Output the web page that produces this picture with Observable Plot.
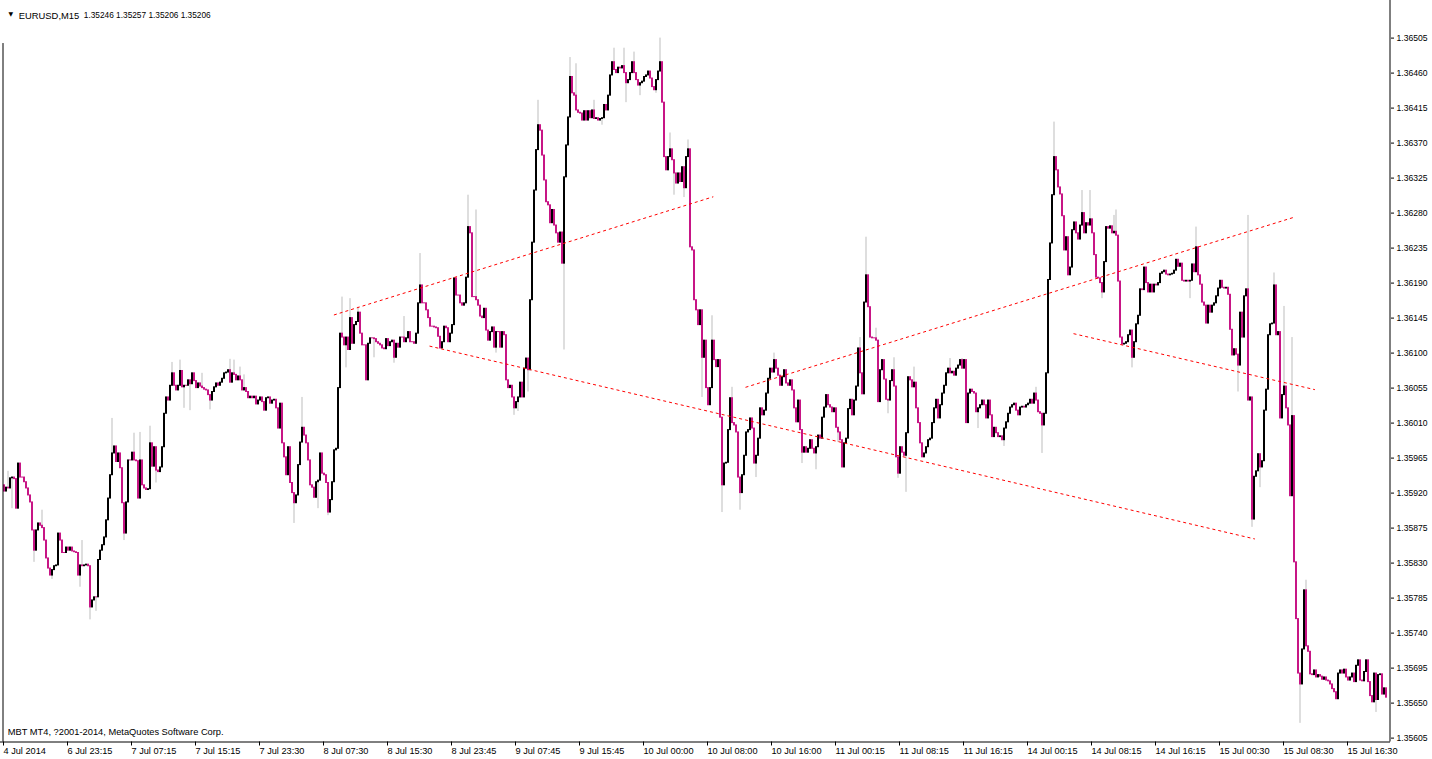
<!DOCTYPE html>
<html><head><meta charset="utf-8">
<script src="https://cdn.jsdelivr.net/npm/d3@7"></script>
<script src="https://cdn.jsdelivr.net/npm/@observablehq/plot@0.6"></script>
<style>
html,body{margin:0;padding:0;background:#fff;}
#chart svg{display:block;}
</style></head><body><div id="chart"></div>
<script>
// ---- texts ----
const symbolTitle = "EURUSD,M15";
const headerOHLC = "1.35246 1.35257 1.35206 1.35206";
const copyright = "MBT MT4, ?2001-2014, MetaQuotes Software Corp.";

// ---- candles (M15), prices in 0.00001 units above 1.30000 ----
const firstOpenPts = 5930;
const closePts = [
5922,5927,5926,5939,5940,5938,5900,5958,5940,5940,
5934,5926,5917,5908,5872,5846,5872,5881,5878,5875,
5859,5836,5823,5814,5821,5826,5827,5868,5859,5843,
5843,5850,5846,5850,5845,5844,5843,5814,5827,5826,
5827,5828,5826,5773,5782,5786,5786,5834,5846,5853,
5863,5885,5913,5943,5971,5980,5960,5971,5952,5907,
5868,5908,5962,5962,5972,5962,5961,5913,5962,5930,
5926,5924,5925,5984,5954,5979,5949,5947,5953,5979,
6022,6043,6039,6058,6074,6058,6052,6058,6077,6056,
6058,6058,6065,6060,6074,6064,6055,6061,6057,6055,
6053,6052,6046,6039,6050,6056,6061,6058,6062,6067,
6074,6075,6078,6062,6074,6072,6065,6070,6065,6052,
6055,6050,6042,6044,6042,6044,6034,6039,6043,6037,
6026,6042,6043,6035,6039,6040,6029,6003,6035,
5984,5966,5943,5979,5933,5920,5907,5917,5956,5985,
6004,5994,5984,5962,5930,5927,5914,5934,5936,5971,
5945,5943,5933,5895,5911,5934,5975,5977,6055,6125,
6120,6110,6120,6104,6145,6112,6136,6140,6152,6125,
6110,6110,6065,6112,6119,6119,6118,6114,6112,6110,
6106,6105,6118,6109,6114,6116,6094,6112,6107,6120,
6120,6114,6119,6127,6114,6114,6112,6125,6164,6187,
6164,6164,6155,6145,6134,6134,6133,6132,6121,6106,
6114,6134,6132,6114,6125,6136,6196,6174,6174,6164,
6161,6164,6197,6262,6254,6172,6172,6168,6161,6147,
6145,6157,6129,6116,6127,6133,6107,6127,6127,6107,
6127,6123,6065,6055,6058,6043,6029,6037,6043,6062,
6043,6080,6093,6078,6168,6242,6309,6361,6393,6386,
6354,6322,6294,6290,6267,6284,6264,
6254,6242,6255,6215,6326,6367,6403,6455,6434,6431,
6412,6409,6408,6399,6411,6399,6411,6402,6412,6401,
6402,6399,6401,6402,6419,6412,6431,6457,6474,6464,
6460,6467,6466,6469,6460,6447,6451,6460,6474,6460,
6451,6444,6447,6449,6455,6457,6462,6453,6442,6438,
6451,6462,6474,6422,6352,6335,6352,6362,6348,6331,
6318,6331,6320,6339,6312,6352,6362,6236,6232,6168,
6155,6136,6155,6094,6116,6055,6033,6055,6116,6091,
6082,6091,6017,5930,5958,5959,6001,6042,6010,6007,
5998,5940,5920,5943,5968,5998,6001,6016,6003,5958,
5968,5990,6029,6020,6026,6048,6067,6080,6075,6091,
6080,6071,6058,6069,6078,6061,6058,6065,6052,6029,
6011,6039,6001,5972,5979,5972,5977,5988,5977,5971,
5979,5994,5990,6017,6030,6046,6033,6030,6024,6029,
6004,5998,
5988,5953,5984,5990,6028,6040,6020,6039,6057,6106,
6074,6047,6165,6200,6159,6120,6119,6119,6116,6037,
6078,6091,6066,6040,6039,6064,6078,6057,5966,5945,
5979,5972,5968,5997,6069,6065,6056,6062,6029,6010,
5984,5966,5971,5979,5988,5990,6010,6029,6040,6016,
6033,6048,6058,6074,6080,6074,6076,6071,6080,6084,
6091,6080,6091,6010,6048,6053,6050,6048,6024,6029,
6033,6039,6033,6016,6039,6020,5992,6004,5997,5992,
5993,5988,6003,6011,6022,6030,6033,6035,6026,6020,
6030,6031,6030,6033,6035,6040,6035,6048,6039,6024,
6022,6007,6022,6074,6194,6241,6303,6352,6335,6313,
6304,6276,6232,6249,6200,6210,6258,6268,6254,6246,
6264,6280,6254,6267,6264,6272,6254,6226,6197,6196,
6190,6178,6217,6262,6260,6263,6254,6256,6251,
6192,6120,6111,6112,6114,6123,6129,6094,6114,6137,
6148,6182,6181,6210,6190,6178,6188,6178,6188,6187,
6190,6202,6204,6206,6201,6200,6201,6202,6206,6220,
6211,6215,6193,6192,6193,6192,6193,6214,6204,6236,
6200,6188,6165,6161,6138,6161,6152,6161,6164,6173,
6183,6193,6184,6183,6184,6175,6130,6097,6105,6098,
6084,6152,6120,6173,6182,6039,6043,5886,5941,5948,
5970,5953,5961,6026,6053,6123,6137,6138,6187,6123,
6127,6016,6046,6057,6029,6007,5916,6019,5831,5758,
5688,5674,5719,5795,5723,5716,5687,5686,5692,5683,
5686,5684,5680,5683,5679,5678,5674,5668,5664,5655,
5688,5692,5688,5693,5683,5679,5683,5688,5677,5698,
5705,5679,5678,5690,5705,5677,5659,5651,5688,5654,
5686,5687,5661,5669,5657
];

// visible shadows (bar index, high, low) in the same units; null = no shadow on that side
const wickIndex = [2,4,15,19,24,38,39,43,46,54,60,65,68,73,76,84,88,90,93,99,103,113,115,118,120,
  145,149,157,162,169,171,173,177,185,195,200,208,232,236,246,255,257,262,267,
  280,283,286,295,299,305,310,311,315,318,326,328,333,335,340,342,349,354,359,364,368,376,385,399,406,417,
  428,431,436,442,445,447,451,455,473,479,487,500,516,519,525,539,543,549,555,556,
  564,593,596,617,622,624,628,635,640,644,648,651,686];
const wickHighPts = [5948,null,null,5898,null,null,5859,null,null,6016,null,5997,5998,6006,null,6088,6091,null,null,6074,null,6092,6091,6082,6072,
  null,6043,null,null,6172,null,6170,6159,null,null,6147,6228,6303,6284,null,null,null,null,6425,
  null,6480,6472,6425,null,6492,6492,null,6487,null,null,6505,6383,null,null,6374,null,6148,null,6056,null,null,6100,null,null,null,
  6120,6249,6132,null,6094,null,null,6082,6093,6093,null,null,6056,null,6397,6309,6309,null,6277,6284,
  null,null,6262,null,6277,null,null,6203,6160,6120,null,5808,null];
const wickLowPts = [null,5900,5831,null,5809,5799,null,5757,5768,null,5859,null,null,null,5933,null,null,6029,6026,null,6027,null,null,null,null,
  5881,null,5900,5891,null,6081,null,null,6094,6087,null,null,null,null,6100,6020,6025,6050,null,
  6104,null,null,null,6393,null,null,6422,null,6431,6434,null,null,6303,6300,null,6043,null,5895,null,5898,5940,null,5958,5950,5985,
  null,null,null,6022,null,5939,5921,null,null,null,6003,5980,null,5971,null,null,null,6170,null,null,
  6081,6170,null,6050,null,5876,5927,null,null,null,5624,null,5638];

// ---- trend lines (bar index, price) ----
const trendFromIndex = [164.7, 212.5, 370.5, 534.5];
const trendFromPrice = [1.36149, 1.36109, 1.36056, 1.36125];
const trendToIndex = [354.4, 625.2, 645.2, 655.2];
const trendToPrice = [1.36301, 1.35861, 1.36275, 1.36053];

// ---- axes ----
const xTickIndex = [0,32,64,96,128,160,192,224,256,288,320,352,384,416,448,480,512,544,576,608,640,672];
const xTickLabels = ["4 Jul 2014","6 Jul 23:15","7 Jul 07:15","7 Jul 15:15","7 Jul 23:30","8 Jul 07:30","8 Jul 15:30","8 Jul 23:45","9 Jul 07:45","9 Jul 15:45","10 Jul 00:00","10 Jul 08:00","10 Jul 16:00","11 Jul 00:15","11 Jul 08:15","11 Jul 16:15","14 Jul 00:15","14 Jul 08:15","14 Jul 16:15","15 Jul 00:30","15 Jul 08:30","15 Jul 16:30"];
const yTicks = [1.35605,1.35650,1.35695,1.35740,1.35785,1.35830,1.35875,1.35920,1.35965,1.36010,1.36055,1.36100,1.36145,1.36190,1.36235,1.36280,1.36325,1.36370,1.36415,1.36460,1.36505];
const priceFloor = 1.35600;

// ---- build tables ----
const toPrice = v => 1.3 + v / 1e5;
const bars = closePts.map((c, i) => ({
  i,
  open: toPrice(i === 0 ? firstOpenPts : closePts[i - 1]),
  close: toPrice(c)
}));
const wicks = wickIndex.map((idx, k) => {
  const b = bars[idx];
  return {
    i: idx,
    hi: wickHighPts[k] != null ? toPrice(wickHighPts[k]) : Math.max(b.open, b.close),
    lo: wickLowPts[k] != null ? toPrice(wickLowPts[k]) : Math.min(b.open, b.close)
  };
});
const trends = trendFromIndex.map((x1, k) => ({x1, y1: trendFromPrice[k], x2: trendToIndex[k], y2: trendToPrice[k]}));

const xDomain = [-2, closePts.length + 1];
const yTop = yTicks[yTicks.length - 1];
const FONT = "'Liberation Sans', Arial, sans-serif";

const chart = Plot.plot({
  width: 1432,
  height: 759,
  marginLeft: 0,
  marginRight: 42,
  marginTop: 0,
  marginBottom: 17.5,
  style: {background: "#ffffff", fontFamily: FONT, fontSize: "9.2px", color: "#000000"},
  x: {type: "linear", domain: xDomain, axis: null},
  y: {domain: [priceFloor, yTop], range: [741.5, 37.6], axis: null},
  marks: [
    Plot.ruleX(wicks, {x: d => d.i - 0.25, y1: "lo", y2: "hi", stroke: "#bdbdbd", strokeWidth: 1}),
    Plot.rect(bars, {
      x1: d => d.i - 0.5, x2: d => d.i + 0.5, y1: "open", y2: "close",
      fill: d => d.close > d.open ? "#000000" : "#c71585",
      insetTop: -0.5, insetBottom: -0.5
    }),
    Plot.link(trends, {x1: "x1", y1: "y1", x2: "x2", y2: "y2", stroke: "#ff0000", strokeWidth: 1, strokeDasharray: "3,3"}),
    Plot.ruleX([xDomain[1] - 0.25], {stroke: "#000"}),
    Plot.ruleY([priceFloor], {stroke: "#000"}),
    Plot.ruleX([xDomain[0] + 1.25], {y1: yTop - 0.00007, y2: priceFloor, stroke: "#000"}),
    Plot.axisY(yTicks, {anchor: "right", tickSize: 3, tickPadding: 3, tickFormat: d => d.toFixed(5), fontSize: 8.6, stroke: "#000", fill: "#000"}),
    Plot.axisX(xTickIndex, {anchor: "bottom", tickSize: 4, tickPadding: 1, textAnchor: "start", dx: -1,
      tickFormat: d => xTickLabels[xTickIndex.indexOf(d)], fontSize: 9.2, stroke: "#000", fill: "#000"}),
    Plot.text(["\u25BC"], {frameAnchor: "top-left", dx: 8, dy: 11.5, fontFamily: "'DejaVu Sans', sans-serif", fontSize: 6, fill: "#000"}),
    Plot.text([symbolTitle], {frameAnchor: "top-left", dx: 18.3, dy: 11.7, textAnchor: "start", fontSize: 9.4, fill: "#000"}),
    Plot.text([headerOHLC], {frameAnchor: "top-left", dx: 83.3, dy: 11.7, textAnchor: "start", fontSize: 8.3, fill: "#000"}),
    Plot.text([copyright], {frameAnchor: "bottom-left", dx: 7.3, dy: -7.5, textAnchor: "start", fontSize: 9.3, fill: "#000"})
  ]
});
document.getElementById("chart").appendChild(chart);
</script>
</body></html>
